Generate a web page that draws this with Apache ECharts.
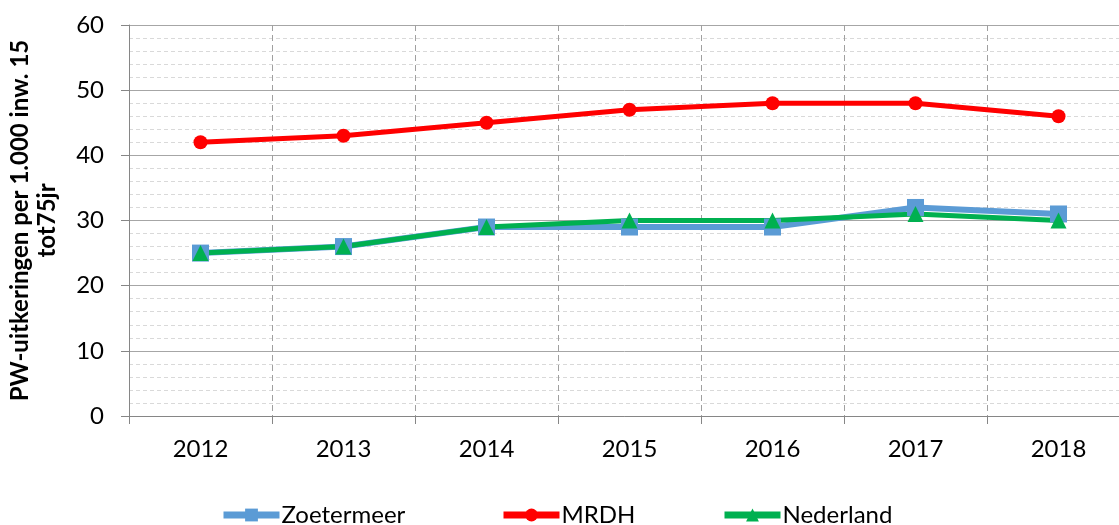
<!DOCTYPE html>
<html>
<head>
<meta charset="utf-8">
<script src="https://cdn.jsdelivr.net/npm/echarts@6/dist/echarts.min.js"></script>
<style>
  html, body { margin: 0; padding: 0; background: #fff; }
  #main { width: 1119px; height: 525px; }
</style>
</head>
<body>
<div id="main"></div>
<script>
// jaren en waarden
var jaren = ['2012', '2013', '2014', '2015', '2016', '2017', '2018'];
var zoetermeer = [25, 26, 29, 29, 29, 32, 31];
var mrdh = [42, 43, 45, 47, 48, 48, 46];
var nederland = [25, 26, 29, 30, 30, 31, 30];
var yTicks = [0, 10, 20, 30, 40, 50, 60];

var font = 'Lato, "Open Sans", sans-serif';
var myChart = echarts.init(document.getElementById('main'));

function legendAt(name, left) {
    return {
        data: [name],
        left: left,
        top: 498,
        itemWidth: 56,
        itemHeight: 16,
        itemGap: 2,
        lineStyle: { width: 7 },
        textStyle: { fontFamily: font, fontSize: 24, color: '#000', padding: [0, 0, 0, -3] }
    };
}

myChart.setOption({
    animation: false,
    grid: { left: 129, right: -11, top: 25, bottom: 109, outerBoundsMode: 'none', containLabel: false },
    legend: [legendAt('Zoetermeer', 215), legendAt('MRDH', 495), legendAt('Nederland', 716)],
    xAxis: {
        type: 'category',
        data: jaren,
        boundaryGap: true,
        axisLine: { lineStyle: { color: '#868686', width: 1 } },
        axisTick: { show: true, length: 8, lineStyle: { color: '#868686' } },
        axisLabel: { fontFamily: font, fontSize: 24, color: '#000', margin: 21 },
        splitLine: { show: true, lineStyle: { color: '#a0a0a0', type: [6, 4], width: 1 } }
    },
    yAxis: {
        type: 'value',
        min: yTicks[0],
        max: yTicks[yTicks.length - 1],
        interval: 10,
        name: 'PW-uitkeringen per 1.000 inw. 15\ntot75jr',
        nameLocation: 'middle',
        nameGap: 68,
        nameTextStyle: { fontFamily: font, fontSize: 24, fontWeight: 'bold', color: '#000', lineHeight: 27 },
        axisLine: { show: true, lineStyle: { color: '#868686' } },
        axisTick: { show: true, length: 8, lineStyle: { color: '#868686' } },
        axisLabel: { fontFamily: font, fontSize: 24, color: '#000', margin: 25 },
        splitLine: { show: true, lineStyle: { color: '#a6a6a6', width: 1 } },
        minorTick: { show: false, splitNumber: 5 },
        minorSplitLine: { show: true, lineStyle: { color: '#d9d9d9', type: [4, 3], width: 1 } }
    },
    series: [
        {
            name: 'Zoetermeer', type: 'line', data: zoetermeer,
            symbol: 'rect', symbolSize: 17,
            itemStyle: { color: '#5b9bd5' },
            lineStyle: { width: 6, color: '#5b9bd5' }
        },
        {
            name: 'MRDH', type: 'line', data: mrdh,
            symbol: 'circle', symbolSize: 14,
            itemStyle: { color: '#ff0000' },
            lineStyle: { width: 5, color: '#ff0000' }
        },
        {
            name: 'Nederland', type: 'line', data: nederland,
            symbol: 'triangle', symbolSize: 16,
            itemStyle: { color: '#00b050' },
            lineStyle: { width: 5, color: '#00b050' }
        }
    ]
});
</script>
</body>
</html>
